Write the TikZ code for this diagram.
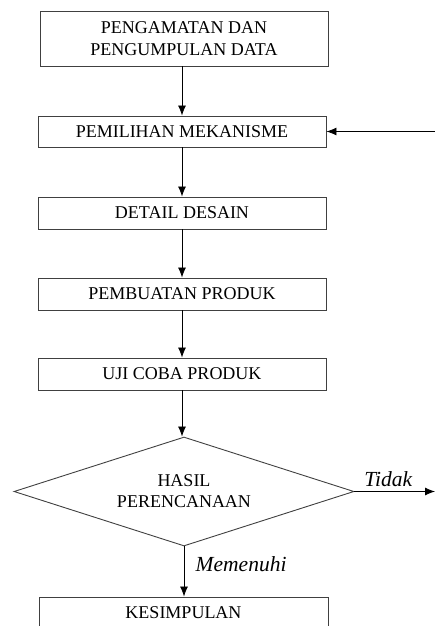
\documentclass[tikz,border=0pt]{standalone}
\usepackage{fontspec}
\setmainfont{Liberation Serif}
\tikzset{proses/.style = {draw=black!75, line width=0.9pt, rectangle, minimum width=288, minimum height=31, inner sep=0, font=\fontsize{18}{22}\selectfont, align=center}}
\tikzset{keputusan/.style = {draw=black!75, line width=0.9pt, diamond, aspect=3.12, minimum width=340, minimum height=109, inner sep=0, font=\fontsize{18}{21}\selectfont, align=center}}
\tikzset{panah/.style = {draw=black, line width=0.8pt, -{Latex[length=10pt, width=8pt]}}}
\tikzset{ket/.style = {font=\itshape\fontsize{21.5}{24}\selectfont}}
\usetikzlibrary{shapes.geometric,
                arrows.meta}

\begin{document}
\begin{tikzpicture}[x=1pt, y=-1pt]
    \useasboundingbox (0,0) rectangle (435,626);
    \clip (0,0) rectangle (435,626);
    \node [proses, minimum height=55] (amati) at (184,38.5) {PENGAMATAN DAN\\PENGUMPULAN DATA};
    \node [proses] (mekanisme) at (182,131.5) {PEMILIHAN MEKANISME};
	\node [proses, minimum height=32] (desain) at (182,213) {DETAIL DESAIN};
	\node [proses, minimum height=32] (buat) at (182,294) {PEMBUATAN PRODUK};
	\node [proses, minimum height=32] (uji) at (182,374) {UJI COBA PRODUK};
	\node [keputusan] (hasil) at (184,491.5) {HASIL\\PERENCANAAN};
	\node [proses, minimum width=289, minimum height=32] (simpul) at (183.5,613) {KESIMPULAN};
	\coordinate (masuk) at (436,131.5);
	\coordinate (keluar) at (435,491.5);
    \draw [panah] (amati.south -| mekanisme) -- (mekanisme.north);
    \draw [panah] (masuk) -- (mekanisme.east);
    \draw [panah] (mekanisme) -- (desain);
    \draw [panah] (desain) -- (buat);
    \draw [panah] (buat) -- (uji);
    \draw [panah] (uji.south) -- (uji.south |- hasil.north);
	\draw [panah] (hasil.east) -- (keluar) node [ket, pos = 0.42, above = 1pt] {Tidak};
	\draw [panah] (hasil.south) -- (simpul.north -| hasil) node [ket, pos = 0.35, right = 8pt] {Memenuhi};
  \end{tikzpicture}
\end{document}
